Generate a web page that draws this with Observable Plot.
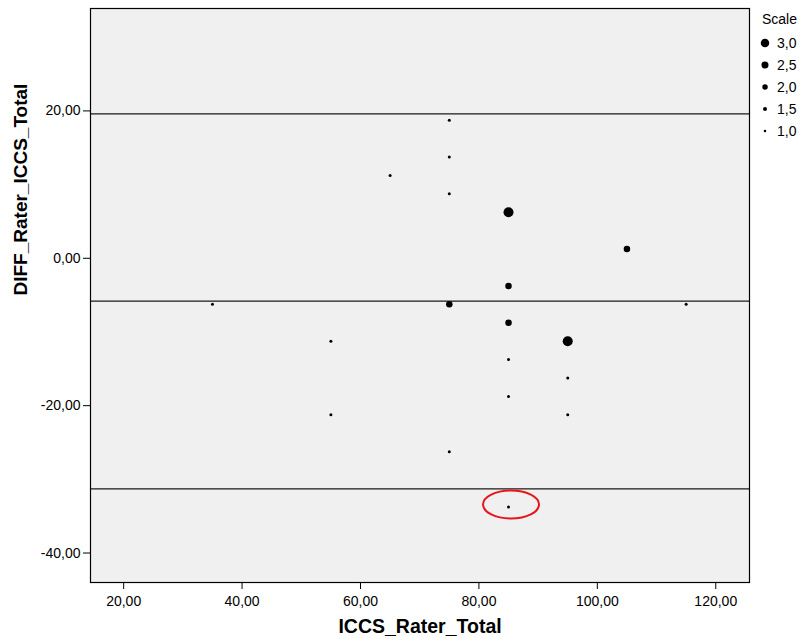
<!DOCTYPE html>
<html><head><meta charset="utf-8">
<script src="https://cdn.jsdelivr.net/npm/d3@7"></script>
<script src="https://cdn.jsdelivr.net/npm/@observablehq/plot@0.6"></script>
<style>body{margin:0;background:#fff} #chart{width:800px;height:644px}</style>
</head><body><div id="chart"></div>
<script>
const xValues = [75, 75, 65, 75, 85, 105, 85, 35, 75, 115, 85, 55, 95, 85, 95, 85, 55, 95, 75, 85];
const yValues = [18.75, 13.75, 11.25, 8.75, 6.25, 1.25, -3.75, -6.25, -6.25, -6.25, -8.75, -11.25, -11.25, -13.75, -16.25, -18.75, -21.25, -21.25, -26.25, -33.75];
const counts  = [1, 1, 1, 1, 3, 2, 2, 1, 2, 1, 2, 1, 3, 1, 1, 1, 1, 1, 1, 1];
const refLines = [19.6, -5.8, -31.3];
const xTicks = [20, 40, 60, 80, 100, 120];
const yTicks = [20, 0, -20, -40];
const legendValues = [3.0, 2.5, 2.0, 1.5, 1.0];
const outlier = {x: 85, y: -33.75};

const points = xValues.map((x, i) => ({x, y: yValues[i], n: counts[i]}));
const fmt2 = d => d.toFixed(2).replace(".", ",");
const fmt1 = d => d.toFixed(1).replace(".", ",");
const font = "Liberation Sans, Arial, sans-serif";

const plot = Plot.plot({
  width: 800, height: 644,
  marginLeft: 90, marginRight: 51, marginTop: 8, marginBottom: 62,
  style: {fontFamily: font, fontSize: "14px", color: "#000", background: "#fff", overflow: "visible"},
  x: {domain: [14.4, 125.7]},
  y: {domain: [-44, 33.9]},
  r: {type: "linear", domain: [1, 3], range: [1.5, 5]},
  marks: [
    Plot.frame({fill: "#f0f0f0"}),
    Plot.ruleY(refLines, {stroke: "#1a1a1a", strokeWidth: 1.3}),
    Plot.dot(points, {x: "x", y: "y", r: "n", fill: "#000", stroke: "none"}),
    Plot.frame({stroke: "#000", strokeWidth: 1.2}),
    Plot.axisX(xTicks, {tickSize: 7, tickPadding: 7, tickFormat: fmt2, label: null, fontSize: 14}),
    Plot.axisY(yTicks, {tickSize: 7, tickPadding: 3, tickFormat: fmt2, label: null, fontSize: 14}),
    Plot.text(["ICCS_Rater_Total"], {text: d => d, frameAnchor: "bottom", dy: 50, fontWeight: "bold", fontSize: 19.5}),
    Plot.text(["DIFF_Rater_ICCS_Total"], {text: d => d, frameAnchor: "left", dx: -70, rotate: -90, fontWeight: "bold", fontSize: 19})
  ]
});

const sx = plot.scale("x"), sy = plot.scale("y"), sr = plot.scale("r");
const svg = d3.select(plot);
svg.append("ellipse")
  .attr("cx", sx.apply(outlier.x) + 3)
  .attr("cy", sy.apply(outlier.y) - 2)
  .attr("rx", 28).attr("ry", 14)
  .attr("fill", "none").attr("stroke", "#e8141b").attr("stroke-width", 2);

const lg = svg.append("g")
  .style("font-family", font).style("font-size", "14px")
  .attr("text-anchor", "start").attr("fill", "#000");
lg.append("text").attr("x", 762).attr("y", 24).text("Scale");
legendValues.forEach((v, i) => {
  const cy = 43 + i * 22;
  lg.append("circle").attr("cx", 765).attr("cy", cy).attr("r", sr.apply(v) * 0.85).attr("fill", "#000");
  lg.append("text").attr("x", 777).attr("y", cy + 5).text(fmt1(v));
});

document.getElementById("chart").append(plot);
</script>
</body></html>
